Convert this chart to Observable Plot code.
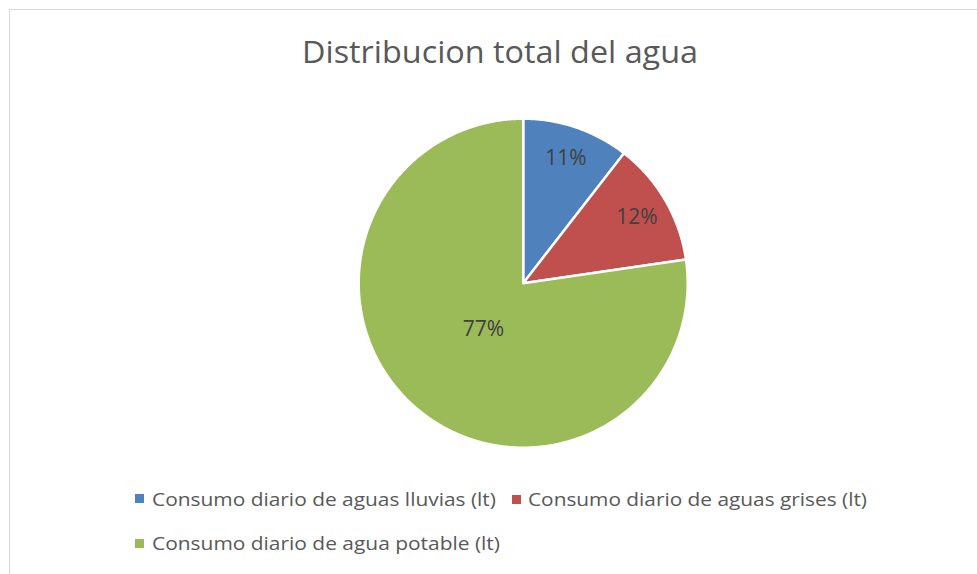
<!DOCTYPE html>
<html><head><meta charset="utf-8">
<script src="https://cdn.jsdelivr.net/npm/d3@7"></script>
<script src="https://cdn.jsdelivr.net/npm/@observablehq/plot@0.6"></script>
<style>
body{margin:0;background:#fff;}
#wrap{position:relative;width:977px;height:574px;overflow:hidden;font-family:"Open Sans",sans-serif;}
#frame{position:absolute;left:9px;top:9px;width:1000px;height:620px;border:1.5px solid #d9d9d9;}
#chart{position:absolute;left:0;top:0;}
</style></head><body>
<div id="wrap"><div id="frame"></div><div id="chart"></div></div>
<script>
// ---- data ----
const title = "Distribucion total del agua";
const categories = [
  "Consumo diario de aguas lluvias (lt)",
  "Consumo diario de aguas grises (lt)",
  "Consumo diario de agua potable (lt)"
];
const values = [10.5, 12.2, 77.3];
const colors = ["#4F81BD", "#C0504D", "#9BBB59"];

// ---- geometry from data ----
const total = d3.sum(values);
const arcs = d3.pie().sort(null).value(d => d)(values);
const slicePts = [];
arcs.forEach((a, i) => {
  const name = categories[i];
  slicePts.push({name, x: 0, y: 0});
  const n = Math.max(2, Math.ceil((a.endAngle - a.startAngle) / 0.01));
  for (let k = 0; k <= n; k++) {
    const t = a.startAngle + (a.endAngle - a.startAngle) * k / n;
    slicePts.push({name, x: Math.sin(t), y: Math.cos(t)});
  }
  slicePts.push({name, x: 0, y: 0});
});
const labels = arcs.map((a, i) => {
  const mid = (a.startAngle + a.endAngle) / 2;
  const share = values[i] / total;
  const r = share > 0.5 ? 0.37 : 0.8;
  return {x: r * Math.sin(mid), y: r * Math.cos(mid), text: Math.round(share * 100) + "%"};
});

const cx = 522.7, cy = 282.7, R = 164.5;
const svg = Plot.plot({
  width: 977, height: 574, margin: 0,
  style: {background: "transparent", fontFamily: "'Open Sans', sans-serif"},
  x: {domain: [-1, 1], range: [cx - R, cx + R], axis: null},
  y: {domain: [-1, 1], range: [cy + R, cy - R], axis: null},
  color: {domain: categories, range: colors},
  marks: [
    Plot.line(slicePts, {x: "x", y: "y", z: "name", fill: "name", stroke: "white", strokeWidth: 2.5, strokeLinejoin: "round"}),
    Plot.text(labels, {x: "x", y: "y", text: "text", fill: "#404040", fontSize: 21})
  ]
});

// title & legend
const s = d3.select(svg);
s.append("text").attr("x", 500).attr("y", 63).attr("text-anchor", "middle")
  .attr("font-size", 31).attr("fill", "#595959")
  .attr("textLength", 396).attr("lengthAdjust", "spacingAndGlyphs").text(title);
const legendItems = [
  {sx: 135, sy: 494, tx: 152, ty: 506, w: 344},
  {sx: 512, sy: 495, tx: 528, ty: 506, w: 339},
  {sx: 135, sy: 539, tx: 152, ty: 550, w: 348}
];
legendItems.forEach((L, i) => {
  s.append("rect").attr("x", L.sx).attr("y", L.sy).attr("width", 9).attr("height", 9).attr("fill", colors[i]);
  s.append("text").attr("x", L.tx).attr("y", L.ty).attr("text-anchor", "start")
    .attr("font-size", 18).attr("fill", "#595959")
    .attr("textLength", L.w).attr("lengthAdjust", "spacingAndGlyphs").text(categories[i]);
});
document.getElementById("chart").appendChild(svg);
</script>
</body></html>
